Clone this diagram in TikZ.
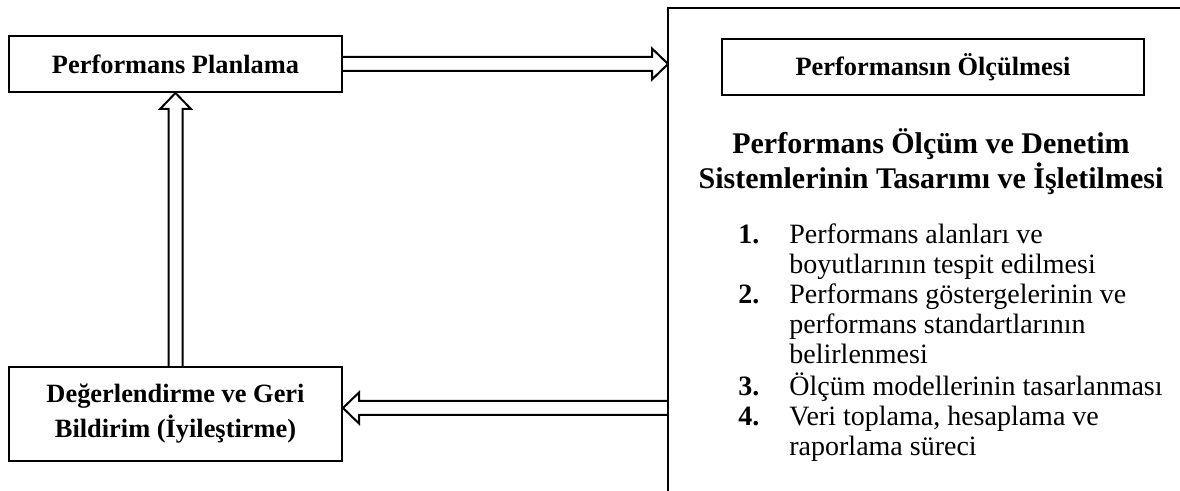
\documentclass[tikz,border=0pt]{standalone}
\usepackage{fontspec}
\setmainfont{Liberation Serif}
\usepackage{tikz}
\usetikzlibrary{positioning,calc}
\tikzstyle{stage} = [rectangle, draw=black, line width=1pt, inner sep=0pt, text centered, align=center, font=\bfseries\fontsize{13.2}{17.5}\selectfont]
\tikzstyle{textonly} = [draw=none, fill=none, inner sep=0pt]
\tikzstyle{frame} = [draw, line width=1pt]
\tikzstyle{fatedge} = [draw, line width=1pt, line join=miter, to path={let \p1=($(\tikztotarget)!8pt!(\tikztostart)$) in
  ($(\tikztostart)!3.5pt!90:(\tikztotarget)$) -- ($(\p1)!3.5pt!90:(\tikztotarget)$) -- ($(\p1)!7.75pt!90:(\tikztotarget)$)
  -- (\tikztotarget)
  -- ($(\p1)!7.75pt!-90:(\tikztotarget)$) -- ($(\p1)!3.5pt!-90:(\tikztotarget)$) -- ($(\tikztostart)!3.5pt!-90:(\tikztotarget)$)}]

\begin{document}
\begin{tikzpicture}[x=0.5pt, y=-0.5pt]
\useasboundingbox (0,0) rectangle (1180,491);

% boxes on the left =============================
\node[stage, minimum width=166.5pt, minimum height=28pt] (plan) at (175.5,64) {Performans Planlama};
\node[stage, minimum width=166.5pt, minimum height=47pt] (eval) at (175.5,414) {Değerlendirme ve Geri\\Bildirim (İyileştirme)};

% open frame on the right
\coordinate (fbl) at (668,491);
\coordinate (ftl) at (668,8);
\coordinate (ftr) at (1180,8);
\path[frame] (fbl) -- (ftl) -- (ftr);

\node[stage, minimum width=211pt, minimum height=28pt] (meas) at (933,67) {Performansın Ölçülmesi};
\node[textonly, align=center, font=\bfseries\fontsize{15}{17.5}\selectfont] (sys) at (931,162) {Performans Ölçüm ve Denetim\\Sistemlerinin Tasarımı ve İşletilmesi};
\node[textonly, anchor=north west, font=\fontsize{14}{15}\selectfont] (steps) at (738,222.4) {%
\begin{tabular}{@{}l@{\hspace{15pt}}l@{}}
\textbf{1.} & Performans alanları ve\\
 & boyutlarının tespit edilmesi\\
\textbf{2.} & Performans göstergelerinin ve\\
 & performans standartlarının\\
 & belirlenmesi\\
\textbf{3.} & Ölçüm modellerinin tasarlanması\\
\textbf{4.} & Veri toplama, hesaplama ve\\
 & raporlama süreci
\end{tabular}};

% edges
\coordinate (back) at ([yshift=3pt]eval.east);
\path[fatedge] (plan.east) to (plan.east -| ftl);
\path[fatedge] (back -| ftl) to (back);
\path[fatedge] (eval.north) to (plan.south);

\end{tikzpicture}
\end{document}
